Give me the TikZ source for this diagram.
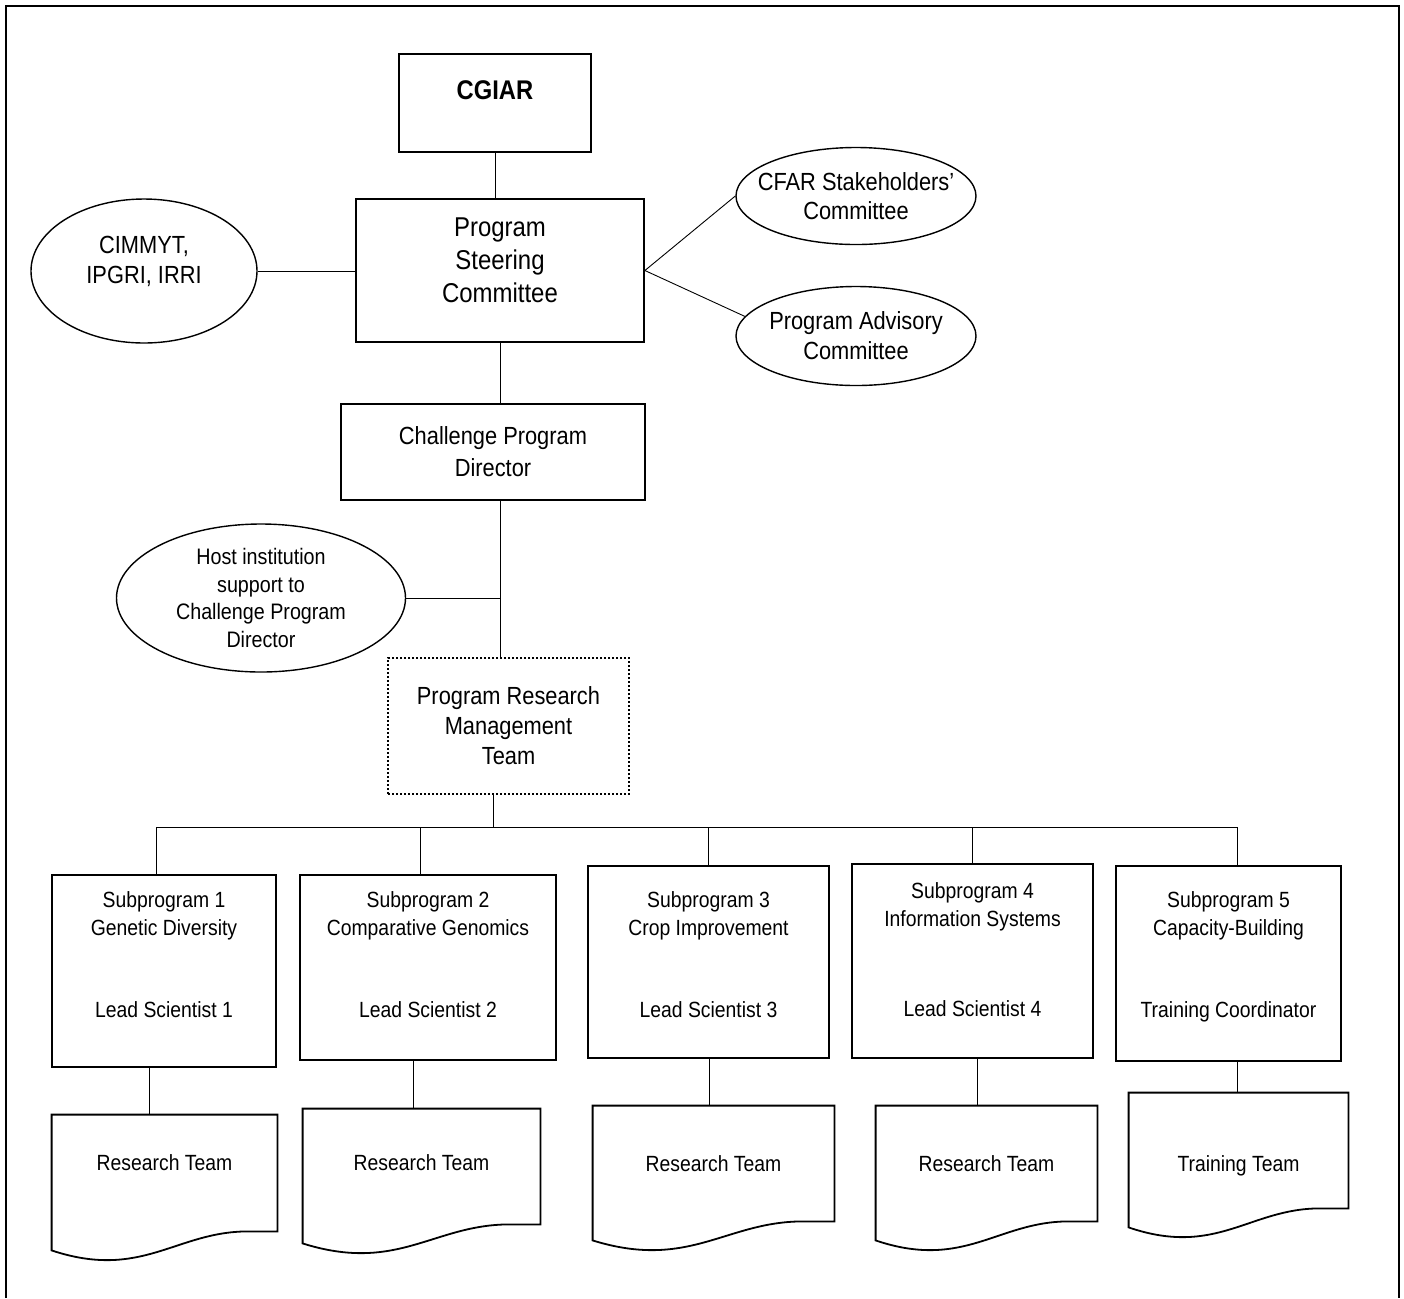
\documentclass[tikz,border=0pt]{standalone}
\usepackage{fontspec}
\setmainfont{Liberation Sans}[FakeStretch=0.88]
\usepackage{tikz}
\usetikzlibrary{shapes,arrows,positioning,fit,calc}

\begin{document}
\begin{tikzpicture}[
    x=0.5pt, y=-0.5pt,
    every node/.style={font=\fontsize{11pt}{14pt}\selectfont, align=center},
    headtext/.style={font=\fontsize{13.6pt}{16.5pt}\selectfont},
    midtext/.style={font=\fontsize{12.4pt}{15pt}\selectfont},
    box/.style={rectangle, draw, line width=0.9pt, inner sep=0pt},
    oval/.style={ellipse, draw, line width=0.7pt, inner sep=0pt},
    doc/.style={rectangle, inner sep=0pt},
    link/.style={line width=0.45pt}
]
\useasboundingbox (0,0) rectangle (1404,1298);
\fill[white] (0,0) rectangle (1404,1298);
\draw[line width=0.9pt] (6,1298) -- (6,6) -- (1399,6) -- (1399,1298);

\node[box, minimum width=96pt, minimum height=49pt, text depth=13pt, font=\fontsize{13.5pt}{16pt}\selectfont\bfseries] (cgiar) at (495,103) {CGIAR};
\node[box, headtext, minimum width=144pt, minimum height=71.5pt, text depth=10pt] (psc) at (500,270.5) {Program\\Steering\\Committee};
\node[oval, midtext, minimum width=113pt, minimum height=72pt, text depth=11pt] (cimmyt) at (144,271) {CIMMYT,\\IPGRI, IRRI};
\node[oval, inner xsep=-7pt, minimum width=120pt, minimum height=48.5pt, font=\fontsize{12.4pt}{14.5pt}\selectfont] (cfar) at (856,196) {CFAR Stakeholders'\\Committee};
\node[oval, midtext, inner xsep=-7pt, minimum width=120pt, minimum height=49.5pt] (pac) at (856,336) {Program Advisory\\Committee};
\node[box, minimum width=152pt, minimum height=48pt, font=\fontsize{12.4pt}{16pt}\selectfont] (cpd) at (493,452) {Challenge Program\\Director};
\node[oval, minimum width=144.5pt, minimum height=74pt, font=\fontsize{11.2pt}{13.75pt}\selectfont] (host) at (261,598) {Host institution\\support to\\Challenge Program\\Director};
\node[box, midtext, dash pattern=on 1pt off 1pt, minimum width=120.5pt, minimum height=68pt] (prmt) at (508.5,726) {Program Research\\Management\\Team};

\node[box, minimum width=112pt, minimum height=96pt, text depth=16pt] (sp1) at (164,971) {Subprogram 1\\Genetic Diversity\\[27pt]Lead Scientist 1};
\node[box, minimum width=128pt, minimum height=92.5pt, text depth=12.5pt] (sp2) at (428,967.5) {Subprogram 2\\Comparative Genomics\\[27pt]Lead Scientist 2};
\node[box, minimum width=120.5pt, minimum height=96pt, text depth=7pt] (sp3) at (708.5,962) {Subprogram 3\\Crop Improvement\\[27pt]Lead Scientist 3};
\node[box, minimum width=120.5pt, minimum height=97pt, text depth=11.5pt] (sp4) at (972.5,961) {Subprogram 4\\Information Systems\\[31pt]Lead Scientist 4};
\node[box, minimum width=112.5pt, minimum height=97.5pt, text depth=8.5pt] (sp5) at (1228.5,963.5) {Subprogram 5\\Capacity-Building\\[27pt]Training Coordinator};

\node[doc, minimum width=112.5pt, minimum height=58pt, text depth=10pt] (rt1) at (164.5,1173) {Research Team};
\node[doc, minimum width=118.5pt, minimum height=57.5pt, text depth=3.5pt] (rt2) at (421.5,1166.5) {Research Team};
\node[doc, minimum width=120.5pt, minimum height=57.5pt] (rt3) at (713.5,1163.5) {Research Team};
\node[doc, minimum width=110.5pt, minimum height=57.5pt] (rt4) at (986.5,1163.5) {Research Team};
\node[doc, minimum width=109.5pt, minimum height=57.5pt, text height=20.5pt, text depth=0pt] (tt) at (1238.5,1150.5) {Training Team};

\foreach \n in {rt1,rt2,rt3,rt4,tt}
  \draw[line width=0.9pt] (\n.south east) -- (\n.north east) -- (\n.north west) -- ($(\n.south west)+(0,19)$)
    .. controls ($(\n.south west)!0.4!(\n.south east)+(0,49)$) and ($(\n.south west)!0.55!(\n.south east)$) .. ($(\n.south west)!0.87!(\n.south east)$) -- cycle;

\draw[link] (cgiar.south) -- (cgiar.south |- psc.north);
\draw[link] (cimmyt.east) -- (cimmyt.east -| psc.west);
\draw[link] (psc.east) -- (cfar.west);
\draw[link] (psc.east) -- (pac.170);
\draw[link] (psc.south) -- (psc.south |- cpd.north);
\draw[link] (cpd.south -| psc.south) -- (prmt.north -| psc.south);
\draw[link] (host.east) -- (host.east -| psc.south);

\coordinate (bus) at (493,827);
\draw[link] (prmt.south -| bus) -- (bus);
\draw[link] ($(sp1.north |- bus)+(-8,0)$) -- ($(sp5.north |- bus)+(8.5,0)$);
\foreach \n/\dx in {sp1/-8,sp2/-8,sp3/0,sp4/0,sp5/8.5}
  \draw[link] ($(\n.north |- bus)+(\dx,0)$) -- ($(\n.north)+(\dx,0)$);
\foreach \s/\t/\dx in {sp1/rt1/-15.5,sp2/rt2/-8.5,sp3/rt3/-4.5,sp4/rt4/-9.5,sp5/tt/-1.5}
  \draw[link] ($(\t.north |- \s.south)+(\dx,0)$) -- ($(\t.north)+(\dx,0)$);
\end{tikzpicture}
\end{document}
